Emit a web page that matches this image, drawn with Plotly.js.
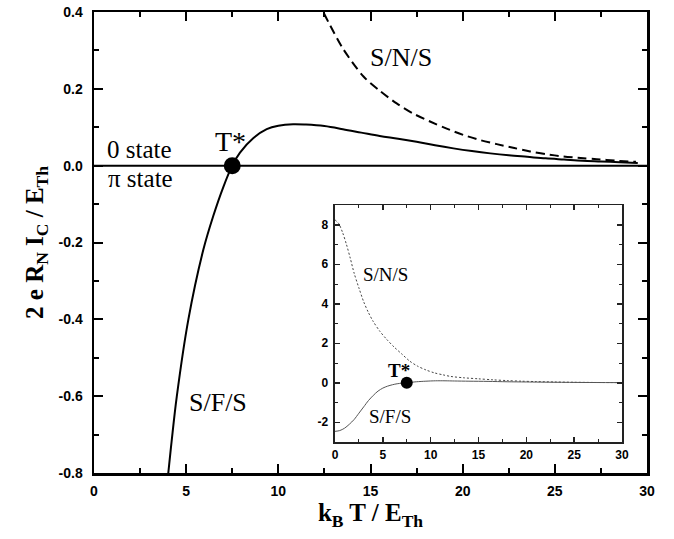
<!DOCTYPE html>
<html>
<head>
<meta charset="utf-8">
<script src="https://cdn.plot.ly/plotly-3.0.1.min.js"></script>
<style>html,body{margin:0;padding:0;background:#fff}#chart{width:674px;height:539px}</style>
</head>
<body>
<div id="chart"></div>
<script>
// ---- data ----
const tStar = 7.5;

// main panel: S/F/S (solid)
const mainSfsX = [3.98, 4.03, 4.21, 4.49, 5.12, 5.93, 6.47, 7.02, 7.5, 7.92, 8.65, 9.37, 10.0, 10.8, 11.5, 12.5, 13.5, 14.5, 15.5, 16.5, 17.5, 18.5, 19.5, 20.5, 21.5, 22.5, 23.5, 24.5, 25.5, 26.5, 27.5, 28.5, 29.5];
const mainSfsY = [-0.825, -0.8, -0.718, -0.601, -0.4, -0.219, -0.131, -0.055, 0.0, 0.034, 0.072, 0.095, 0.104, 0.108, 0.107, 0.103, 0.095, 0.086, 0.077, 0.070, 0.062, 0.053, 0.045, 0.038, 0.032, 0.027, 0.023, 0.019, 0.016, 0.013, 0.011, 0.009, 0.007];

// main panel: S/N/S (dashed)
const mainSnsX = [12.2, 12.44, 12.8, 13.5, 14.62, 15.5, 16.42, 17.3, 18.23, 19.1, 20.04, 21.0, 21.85, 22.8, 23.66, 24.5, 25.47, 26.4, 27.27, 28.3, 29.4];
const mainSnsY = [0.43, 0.40, 0.366, 0.305, 0.232, 0.195, 0.162, 0.136, 0.115, 0.097, 0.080, 0.066, 0.056, 0.046, 0.037, 0.030, 0.024, 0.020, 0.017, 0.013, 0.010];

// inset: S/N/S (dotted)
const insetSnsX = [0, 0.4, 0.8, 1.2, 1.6, 2.0, 2.5, 3.0, 3.5, 4.0, 4.7, 5.4, 6.2, 7.0, 7.8, 8.6, 9.5, 10.4, 11.3, 12.1, 13.5, 15, 16.5, 18, 19.5, 21, 23, 25, 27, 29.5];
const insetSnsY = [8.25, 8.05, 7.6, 7.0, 6.3, 5.55, 4.8, 4.1, 3.55, 3.1, 2.6, 2.2, 1.8, 1.45, 1.1, 0.85, 0.65, 0.5, 0.4, 0.32, 0.25, 0.2, 0.15, 0.11, 0.08, 0.06, 0.04, 0.025, 0.015, 0.01];

// inset: S/F/S (thin solid)
const insetSfsX = [0, 0.5, 1.0, 1.5, 2.0, 2.5, 3.0, 3.5, 4.0, 4.5, 5.0, 5.5, 6.0, 6.5, 7.0, 7.5, 8.5, 9.5, 10.5, 11.5, 12.5, 14, 16, 18, 20, 23, 26, 29.5];
const insetSfsY = [-2.46, -2.42, -2.3, -2.1, -1.86, -1.54, -1.22, -0.9, -0.64, -0.42, -0.27, -0.17, -0.1, -0.05, -0.02, 0.0, 0.05, 0.08, 0.1, 0.1, 0.09, 0.08, 0.07, 0.05, 0.04, 0.025, 0.015, 0.008];

// tick labels
const mainXTicks = [0, 5, 10, 15, 20, 25, 30];
const mainXText = ["0", "5", "10", "15", "20", "25", "30"];
const mainYTicks = [-0.8, -0.6, -0.4, -0.2, 0.0, 0.2, 0.4];
const mainYText = ["-0.8", "-0.6", "-0.4", "-0.2", "0.0", "0.2", "0.4"];
const insetXTicks = [0, 5, 10, 15, 20, 25, 30];
const insetXText = ["0", "5", "10", "15", "20", "25", "30"];
const insetYTicks = [-2, 0, 2, 4, 6, 8];
const insetYText = ["-2", "0", "2", "4", "6", "8"];

// ---- styling ----
const serif = "Liberation Serif, Times New Roman, serif";
const sans = "Liberation Sans, Arial, sans-serif";

const traces = [
  {x: mainSnsX, y: mainSnsY, xaxis: 'x', yaxis: 'y', mode: 'lines',
   line: {color: '#000', width: 2, dash: '9px,5px', shape: 'spline', smoothing: 0.8}, hoverinfo: 'skip'},
  {x: mainSfsX, y: mainSfsY, xaxis: 'x', yaxis: 'y', mode: 'lines',
   line: {color: '#000', width: 2, shape: 'spline', smoothing: 1}, hoverinfo: 'skip'},
  {x: [tStar], y: [0], xaxis: 'x', yaxis: 'y', mode: 'markers',
   marker: {color: '#000', size: 17}, hoverinfo: 'skip'},
  {x: insetSnsX, y: insetSnsY, xaxis: 'x2', yaxis: 'y2', mode: 'lines',
   line: {color: '#444', width: 1, dash: '2px,2px', shape: 'spline', smoothing: 0.8}, hoverinfo: 'skip'},
  {x: insetSfsX, y: insetSfsY, xaxis: 'x2', yaxis: 'y2', mode: 'lines',
   line: {color: '#555', width: 1, shape: 'spline', smoothing: 0.8}, hoverinfo: 'skip'},
  {x: [tStar], y: [0], xaxis: 'x2', yaxis: 'y2', mode: 'markers',
   marker: {color: '#000', size: 12}, hoverinfo: 'skip'}
];

const mainAxisCommon = {
  showgrid: false, zeroline: false, showline: true, linecolor: '#000', linewidth: 2.5,
  mirror: 'ticks', ticks: 'inside', ticklen: 9, tickwidth: 2, tickcolor: '#000',
  tickmode: 'array', tickfont: {family: sans, size: 14, color: '#000', weight: 'bold'}
};
const insetAxisCommon = {
  showgrid: false, zeroline: false, showline: true, linecolor: '#222', linewidth: 1.5,
  mirror: 'ticks', ticks: 'inside', ticklen: 5, tickwidth: 1.5, tickcolor: '#222',
  tickmode: 'array', tickfont: {family: sans, size: 12, color: '#000', weight: 'bold'}
};

const layout = {
  width: 674, height: 539,
  margin: {l: 94, r: 27, t: 12, b: 66},
  paper_bgcolor: '#fff', plot_bgcolor: '#fff',
  showlegend: false,
  xaxis: Object.assign({}, mainAxisCommon, {
    domain: [0, 1], range: [0, 30], anchor: 'y',
    tickvals: mainXTicks, ticktext: mainXText, ticklabelstandoff: 4,
    minor: {tickmode: 'linear', tick0: 0, dtick: 2.5, ticks: 'inside', ticklen: 5, tickwidth: 2, tickcolor: '#000'},
    title: {text: '<b>k<sub>B</sub> T / E<sub>Th</sub></b>', font: {family: serif, size: 25, color: '#000'}, standoff: 2}
  }),
  yaxis: Object.assign({}, mainAxisCommon, {
    domain: [0, 1], range: [-0.8, 0.4], anchor: 'x',
    tickvals: mainYTicks, ticktext: mainYText, ticklabelstandoff: 6,
    minor: {tickmode: 'linear', tick0: 0, dtick: 0.1, ticks: 'inside', ticklen: 5, tickwidth: 2, tickcolor: '#000'},
    title: {text: '<b>2 e R<sub>N</sub> I<sub>C</sub> / E<sub>Th</sub></b>', font: {family: serif, size: 25, color: '#000'}, standoff: 8}
  }),
  xaxis2: Object.assign({}, insetAxisCommon, {
    domain: [0.4358, 0.9548], range: [0, 30], anchor: 'y2',
    tickvals: insetXTicks, ticktext: insetXText, ticklabelstandoff: 1,
    minor: {tickmode: 'linear', tick0: 0, dtick: 2.5, ticks: 'inside', ticklen: 3, tickwidth: 1, tickcolor: '#222'}
  }),
  yaxis2: Object.assign({}, insetAxisCommon, {
    domain: [0.0672, 0.5813], range: [-3, 9], anchor: 'x2',
    tickvals: insetYTicks, ticktext: insetYText, ticklabelstandoff: 3,
    minor: {tickmode: 'linear', tick0: 0, dtick: 1, ticks: 'inside', ticklen: 3, tickwidth: 1, tickcolor: '#222'}
  }),
  shapes: [
    {type: 'line', xref: 'x domain', x0: 0, x1: 1, yref: 'y', y0: 0, y1: 0, line: {color: '#000', width: 2}, layer: 'below'},
    {type: 'line', xref: 'x2 domain', x0: 0, x1: 1, yref: 'y2', y0: 0, y1: 0, line: {color: '#000', width: 2}, layer: 'below'}
  ],
  annotations: [
    {xref: 'x', yref: 'y', x: 16.64, y: 0.282, text: 'S/N/S', showarrow: false, font: {family: serif, size: 26, color: '#000'}},
    {xref: 'x', yref: 'y', x: 6.75, y: -0.616, text: 'S/F/S', showarrow: false, font: {family: serif, size: 26, color: '#000'}},
    {xref: 'x', yref: 'y', x: 2.46, y: 0.041, text: '0 state', showarrow: false, font: {family: serif, size: 25, color: '#000'}},
    {xref: 'x', yref: 'y', x: 2.5, y: -0.033, text: 'π state', showarrow: false, font: {family: serif, size: 25, color: '#000'}},
    {xref: 'x', yref: 'y', x: 7.4, y: 0.062, text: 'T*', showarrow: false, font: {family: serif, size: 28, color: '#000'}},
    {xref: 'x2', yref: 'y2', x: 5.26, y: 5.49, text: 'S/N/S', showarrow: false, font: {family: serif, size: 19, color: '#000'}},
    {xref: 'x2', yref: 'y2', x: 5.75, y: -1.71, text: 'S/F/S', showarrow: false, font: {family: serif, size: 19, color: '#000'}},
    {xref: 'x2', yref: 'y2', x: 6.69, y: 0.62, text: '<b>T*</b>', showarrow: false, font: {family: serif, size: 19, color: '#000'}}
  ]
};

Plotly.newPlot('chart', traces, layout, {staticPlot: true, displayModeBar: false});
</script>
</body>
</html>
